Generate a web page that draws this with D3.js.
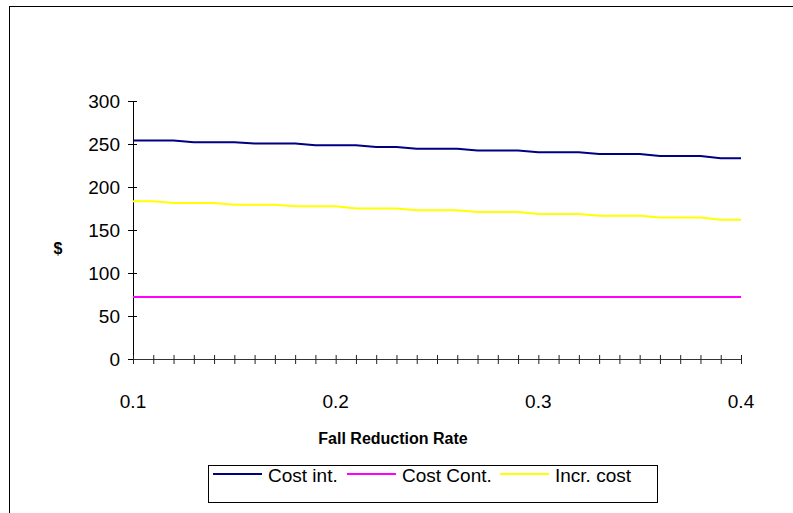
<!DOCTYPE html>
<html>
<head>
<meta charset="utf-8">
<script src="https://cdn.jsdelivr.net/npm/d3@7/dist/d3.min.js"></script>
<style>
  html, body { margin: 0; padding: 0; background: #fff; }
  svg { display: block; font-family: "Liberation Sans", Arial, sans-serif; }
</style>
</head>
<body>
<svg id="chart" width="793" height="513"></svg>
<script>
// Fall reduction rate categories (x axis)
const rates = [0.10, 0.11, 0.12, 0.13, 0.14, 0.15, 0.16, 0.17, 0.18, 0.19, 0.20,
               0.21, 0.22, 0.23, 0.24, 0.25, 0.26, 0.27, 0.28, 0.29, 0.30,
               0.31, 0.32, 0.33, 0.34, 0.35, 0.36, 0.37, 0.38, 0.39, 0.40];

// Cost series in $
const costInt = [254, 254, 254, 252, 252, 252, 250.5, 250.5, 250.5, 248.5, 248.5,
                 248.5, 246.5, 246.5, 244.5, 244.5, 244.5, 242.5, 242.5, 242.5, 240.5,
                 240.5, 240.5, 238.5, 238.5, 238.5, 236, 236, 236, 233.5, 233.5];
const costCont = [72, 72, 72, 72, 72, 72, 72, 72, 72, 72, 72,
                  72, 72, 72, 72, 72, 72, 72, 72, 72, 72,
                  72, 72, 72, 72, 72, 72, 72, 72, 72, 72];
const incrCost = [183.5, 183.5, 181.5, 181.5, 181.5, 179.5, 179.5, 179.5, 177.5, 177.5, 177.5,
                  175, 175, 175, 173, 173, 173, 171, 171, 171, 168.5,
                  168.5, 168.5, 166.5, 166.5, 166.5, 164.5, 164.5, 164.5, 162, 162];

const seriesNames = ["Cost int.", "Cost Cont.", "Incr. cost"];
const seriesColors = ["#000080", "#ff00ff", "#ffff00"];
const seriesValues = [costInt, costCont, incrCost];

const yTicks = [0, 50, 100, 150, 200, 250, 300];
const xLabelValues = [0.1, 0.2, 0.3, 0.4];

const svg = d3.select("#chart");

// chart area frame
svg.append("rect")
  .attr("x", 9.5).attr("y", 6.5)
  .attr("width", 800).attr("height", 520)
  .attr("fill", "none").attr("stroke", "#000").attr("stroke-width", 1);

const x = d3.scalePoint().domain(rates).range([133, 741]);
const y = d3.scaleLinear().domain([0, 300]).range([359, 101]);

// y axis with ticks crossing the axis line
const yAxis = svg.append("g")
  .attr("transform", "translate(133,0)")
  .call(d3.axisLeft(y).tickValues(yTicks).tickSize(5).tickPadding(8).tickSizeOuter(0));
yAxis.select(".domain").attr("stroke", "#000").attr("stroke-width", 1);
yAxis.selectAll(".tick line").attr("x1", 4).attr("stroke", "#000");
yAxis.selectAll(".tick text")
  .attr("font-size", 19).attr("fill", "#000")
  .attr("font-family", "Liberation Sans, Arial, sans-serif");

// x axis: a tick on every category, labels every 0.1
const xAxis = svg.append("g")
  .attr("transform", "translate(0,359)")
  .call(d3.axisBottom(x).tickValues(rates).tickSize(5).tickSizeOuter(0).tickFormat(() => ""));
xAxis.select(".domain").attr("stroke", "#333").attr("stroke-width", 1);
xAxis.selectAll(".tick line").attr("y1", -4).attr("stroke", "#222");

svg.append("g").selectAll("text")
  .data(xLabelValues)
  .join("text")
  .attr("x", d => x(rates.find(r => Math.abs(r - d) < 1e-9)))
  .attr("y", 408)
  .attr("text-anchor", "middle")
  .attr("font-size", 19)
  .text(d => d3.format(".1f")(d));

// series lines
const line = d3.line()
  .x((d, i) => x(rates[i]))
  .y(d => y(d));

svg.append("g").selectAll("path")
  .data(seriesValues)
  .join("path")
  .attr("d", d => line(d))
  .attr("fill", "none")
  .attr("stroke", (d, i) => seriesColors[i])
  .attr("stroke-width", 2);

// axis titles
svg.append("text")
  .attr("x", 393).attr("y", 444)
  .attr("text-anchor", "middle")
  .attr("font-size", 16).attr("font-weight", "bold")
  .text("Fall Reduction Rate");

svg.append("text")
  .attr("x", 58).attr("y", 254)
  .attr("text-anchor", "middle")
  .attr("font-size", 16).attr("font-weight", "bold")
  .text("$");

// legend
const legend = svg.append("g");
legend.append("rect")
  .attr("x", 208.5).attr("y", 465.5)
  .attr("width", 449).attr("height", 37)
  .attr("fill", "#fff").attr("stroke", "#000").attr("stroke-width", 1);

const legendX = [213, 347, 500];
const items = legend.selectAll("g.item")
  .data(seriesNames)
  .join("g")
  .attr("class", "item")
  .attr("transform", (d, i) => `translate(${legendX[i]},474)`);
items.append("line")
  .attr("x1", 0).attr("x2", 49)
  .attr("y1", 0).attr("y2", 0)
  .attr("stroke", (d, i) => seriesColors[i])
  .attr("stroke-width", 2);
items.append("text")
  .attr("x", 55).attr("y", 7.5)
  .attr("font-size", 19)
  .text(d => d);
</script>
</body>
</html>
